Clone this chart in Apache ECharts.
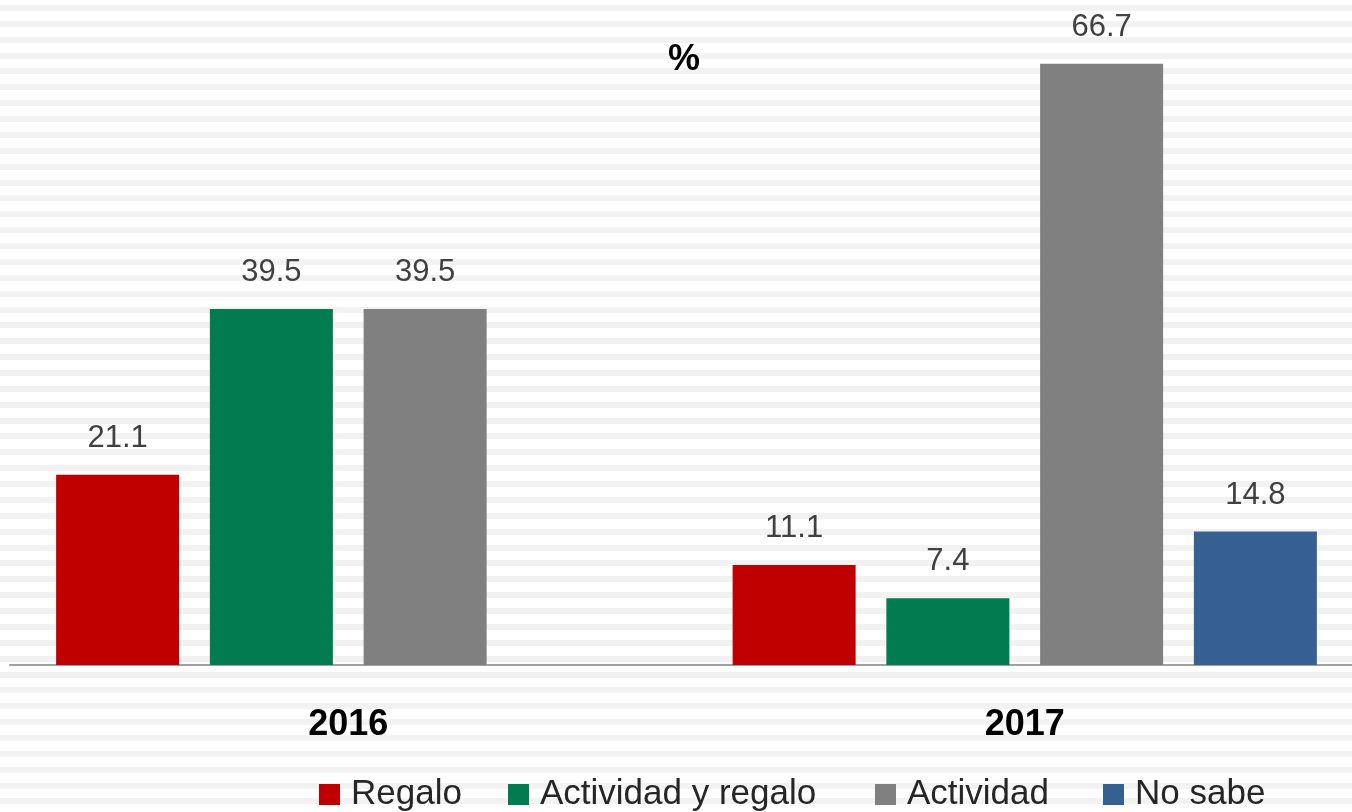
<!DOCTYPE html>
<html lang="es">
<head>
    <meta charset="UTF-8">
    <title>%</title>
    <script src="https://cdn.jsdelivr.net/npm/echarts@6/dist/echarts.min.js"></script>
    <style>
        html, body { margin: 0; padding: 0; }
        body {
            /* fondo rayado como en la imagen */
            background: repeating-linear-gradient(to bottom, #ffffff 0, #ffffff 5px, #f2f2f2 5px, #f2f2f2 11px, #ffffff 11px, #ffffff 15.87px);
        }
    </style>
</head>
<body>
<div id="box" style="width: 1352px;height: 812px;"></div>

<script>
    // datos
    var years = ['2016', '2017'];
    var regalo = [21.1, 11.1];
    var actividadRegalo = [39.5, 7.4];
    var actividad = [39.5, 66.7];
    var noSabe = [null, 14.8];

    var seriesNames = ['Regalo', 'Actividad y regalo', 'Actividad', 'No sabe'];
    var seriesData = [regalo, actividadRegalo, actividad, noSabe];
    var colors = ['#c00000', '#007c50', '#808080', '#366092'];
    // posicion x de cada elemento de la leyenda
    var legendLeft = [319, 508, 875, 1103];

    var myChart = echarts.init(document.getElementById('box'));

    var series = seriesNames.map(function (name, i) {
        return {
            name: name,
            type: 'bar',
            data: seriesData[i],
            barWidth: 123,
            barGap: '25%',
            itemStyle: { color: colors[i] },
            label: {
                show: true,
                position: 'top',
                distance: 21,
                color: '#404040',
                fontSize: 31,
                fontFamily: 'Liberation Sans',
                formatter: function (p) { return p.value.toFixed(1); }
            }
        };
    });

    // una leyenda por serie para colocarlas como en el original
    var legends = seriesNames.map(function (name, i) {
        return {
            data: [name],
            left: legendLeft[i],
            top: 777,
            padding: 0,
            itemWidth: 21,
            itemHeight: 21,
            icon: 'rect',
            textStyle: { fontSize: 35, color: '#262626', fontFamily: 'Liberation Sans', padding: [0, 0, 0, 6] }
        };
    });

    var option = {
        backgroundColor: 'transparent',
        animation: false,
        title: {
            text: '%',
            left: 668,
            top: 42,
            padding: 0,
            textStyle: { fontSize: 36, fontWeight: 'bold', color: '#000', fontFamily: 'Liberation Sans' }
        },
        legend: legends,
        grid: {
            left: 10,
            width: 1353,
            top: 34,
            height: 631,
            outerBoundsMode: 'none'
        },
        xAxis: {
            type: 'category',
            data: years,
            axisLine: { lineStyle: { color: '#a0a0a0', width: 2 } },
            axisTick: { show: false },
            axisLabel: {
                margin: 42,
                fontSize: 36,
                fontWeight: 'bold',
                color: '#000',
                fontFamily: 'Liberation Sans'
            }
        },
        yAxis: {
            type: 'value',
            min: 0,
            max: 70,
            show: false,
            splitLine: { show: false }
        },
        series: series
    };
    myChart.setOption(option);
</script>
</body>
</html>
